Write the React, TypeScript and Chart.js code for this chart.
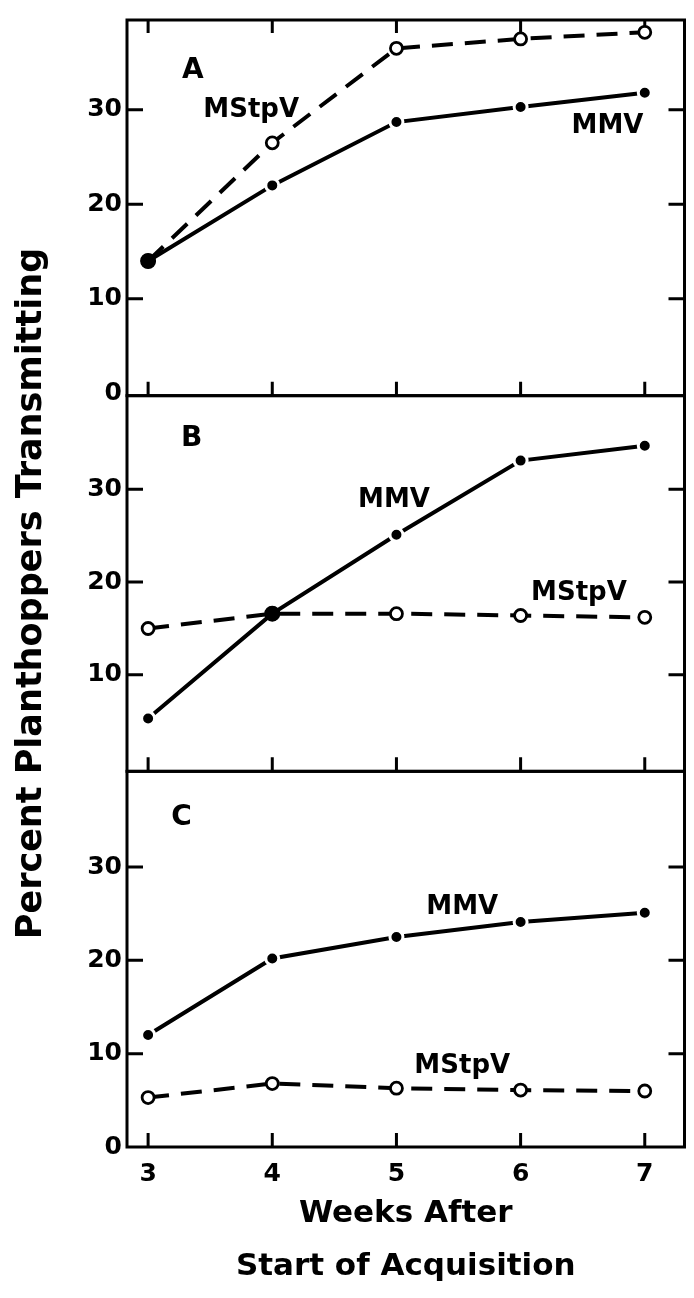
import React, { useEffect, useRef } from 'react';
import { Chart, registerables } from 'chart.js';

Chart.register(...registerables);

// ---- data ----
const weeks = [3, 4, 5, 6, 7];
const yTickValues = [0, 10, 20, 30];

const panelA_MMV = [14.0, 22.0, 28.7, 30.3, 31.8];
const panelA_MStpV = [14.0, 26.5, 36.5, 37.5, 38.2];
const panelB_MMV = [5.3, 16.6, 25.1, 33.1, 34.7];
const panelB_MStpV = [15.0, 16.6, 16.6, 16.4, 16.2];
const panelC_MMV = [12.0, 20.2, 22.5, 24.1, 25.1];
const panelC_MStpV = [5.3, 6.8, 6.3, 6.1, 6.0];

const seriesMMV = 'MMV';
const seriesMStpV = 'MStpV';
const yTitle = 'Percent Planthoppers Transmitting';
const xTitle = ['Weeks After', 'Start of Acquisition'];

// annotation texts placed in data coordinates of each panel
const panelTexts = [
  { axis: 'yA', text: 'A', x: 3.36, y: 34.1, size: 28 },
  { axis: 'yA', text: seriesMStpV, x: 3.83, y: 30.0, size: 26 },
  { axis: 'yA', text: seriesMMV, x: 6.7, y: 28.3, size: 26 },
  { axis: 'yB', text: 'B', x: 3.35, y: 35.5, size: 28 },
  { axis: 'yB', text: seriesMMV, x: 4.98, y: 28.8, size: 26 },
  { axis: 'yB', text: seriesMStpV, x: 6.47, y: 18.8, size: 26 },
  { axis: 'yC', text: 'C', x: 3.27, y: 35.3, size: 28 },
  { axis: 'yC', text: seriesMMV, x: 5.53, y: 25.7, size: 26 },
  { axis: 'yC', text: seriesMStpV, x: 5.53, y: 8.7, size: 26 },
];

const FAMILY = "'DejaVu Sans', sans-serif";
const boldFont = (size: number, lineHeight = 1.2) => ({ family: FAMILY, size, weight: 'bold' as const, lineHeight });

const toPoints = (vals: number[]) => weeks.map((w, i) => ({ x: w, y: vals[i] }));

function mmvDataset(vals: number[], other: number[], axis: string) {
  return {
    label: seriesMMV,
    data: toPoints(vals),
    yAxisID: axis,
    borderColor: '#000',
    borderWidth: 4,
    pointRadius: 6.5,
    pointBackgroundColor: '#000',
    pointBorderColor: (ctx: any) => (ctx.raw && ctx.raw.y === other[ctx.dataIndex] ? '#000' : '#fff'),
    pointBorderWidth: 3,
    tension: 0,
    order: 0,
  };
}

function mstpvDataset(vals: number[], axis: string) {
  return {
    label: seriesMStpV,
    data: toPoints(vals),
    yAxisID: axis,
    borderColor: '#000',
    borderWidth: 4,
    borderDash: [21, 12],
    pointRadius: 6,
    pointBackgroundColor: '#fff',
    pointBorderColor: '#000',
    pointBorderWidth: 2.8,
    tension: 0,
    order: 1,
  };
}

function yScale(min: number, max: number, showZero: boolean) {
  return {
    type: 'linear' as const,
    position: 'left' as const,
    stack: 'panels',
    stackWeight: 1,
    min,
    max,
    afterBuildTicks: (s: any) => {
      s.ticks = yTickValues.map((v) => ({ value: v }));
    },
    afterFit: (s: any) => {
      s.width = 127;
    },
    grid: { display: false, drawTicks: false },
    border: { display: false },
    ticks: {
      font: boldFont(25),
      color: '#000',
      padding: 5,
      callback: (v: any) => (!showZero && v === 0 ? '' : String(v)),
    },
  };
}

const framePlugin = {
  id: 'panelFrames',
  beforeDatasetsDraw(chart: any) {
    const { ctx, chartArea } = chart;
    const xs = chart.scales.x;
    ctx.save();
    ctx.strokeStyle = '#000';
    ctx.lineWidth = 3;
    ctx.lineCap = 'butt';
    ['yA', 'yB', 'yC'].forEach((id) => {
      const s = chart.scales[id];
      ctx.strokeRect(chartArea.left, s.top, chartArea.right - chartArea.left, s.bottom - s.top);
      ctx.beginPath();
      [10, 20, 30].forEach((v) => {
        const py = s.getPixelForValue(v);
        ctx.moveTo(chartArea.left, py);
        ctx.lineTo(chartArea.left + 16, py);
        ctx.moveTo(chartArea.right, py);
        ctx.lineTo(chartArea.right - 16, py);
      });
      weeks.forEach((w) => {
        const px = xs.getPixelForValue(w);
        ctx.moveTo(px, s.bottom);
        ctx.lineTo(px, s.bottom - 14);
        if (id === 'yA') {
          ctx.moveTo(px, s.top);
          ctx.lineTo(px, s.top + 13);
        }
      });
      ctx.stroke();
    });
    ctx.restore();
  },
  afterDatasetsDraw(chart: any) {
    const { ctx } = chart;
    const xs = chart.scales.x;
    ctx.save();
    ctx.fillStyle = '#000';
    ctx.textAlign = 'center';
    ctx.textBaseline = 'middle';
    panelTexts.forEach((t) => {
      const s = chart.scales[t.axis];
      ctx.font = `bold ${t.size}px ${FAMILY}`;
      ctx.fillText(t.text, xs.getPixelForValue(t.x), s.getPixelForValue(t.y));
    });
    // vertical axis title spanning all three panels
    const mid = (chart.scales.yA.top + chart.scales.yC.bottom) / 2 + 10;
    ctx.translate(32, mid);
    ctx.rotate(-Math.PI / 2);
    ctx.font = `bold 35px ${FAMILY}`;
    ctx.fillText(yTitle, 0, 0);
    ctx.restore();
  },
};

export default function App() {
  const canvasRef = useRef<HTMLCanvasElement | null>(null);

  useEffect(() => {
    if (!canvasRef.current) return;
    const chart = new Chart(canvasRef.current, {
      type: 'line',
      data: {
        datasets: [
          mmvDataset(panelA_MMV, panelA_MStpV, 'yA'),
          mmvDataset(panelB_MMV, panelB_MStpV, 'yB'),
          mmvDataset(panelC_MMV, panelC_MStpV, 'yC'),
          mstpvDataset(panelA_MStpV, 'yA'),
          mstpvDataset(panelB_MStpV, 'yB'),
          mstpvDataset(panelC_MStpV, 'yC'),
        ] as any,
      },
      options: {
        responsive: false,
        animation: false,
        layout: { padding: { top: 12, right: 2, left: 0, bottom: 0 } },
        plugins: { legend: { display: false }, tooltip: { enabled: false } },
        scales: {
          x: {
            type: 'linear',
            position: 'bottom',
            min: 2.83,
            max: 7.32,
            afterBuildTicks: (s: any) => {
              s.ticks = weeks.map((v) => ({ value: v }));
            },
            afterFit: (s: any) => {
              s.height = 151;
            },
            grid: { display: false, drawTicks: false },
            border: { display: false },
            ticks: { font: boldFont(25), color: '#000', padding: 12, maxRotation: 0, autoSkip: false },
            title: {
              display: true,
              text: xTitle,
              font: boldFont(31, 1.71),
              color: '#000',
              padding: { top: 0, bottom: 5 },
            },
          },
          yC: yScale(0, 40.25, true),
          yB: yScale(-0.4, 40.1, false),
          yA: yScale(-0.25, 39.5, true),
        } as any,
      },
      plugins: [framePlugin],
    });
    return () => chart.destroy();
  }, []);

  return (
    <div style={{ position: 'absolute', left: 0, top: 0, width: 694, height: 1298, background: '#fff' }}>
      <canvas ref={canvasRef} width={694} height={1298} style={{ display: 'block' }} />
    </div>
  );
}
